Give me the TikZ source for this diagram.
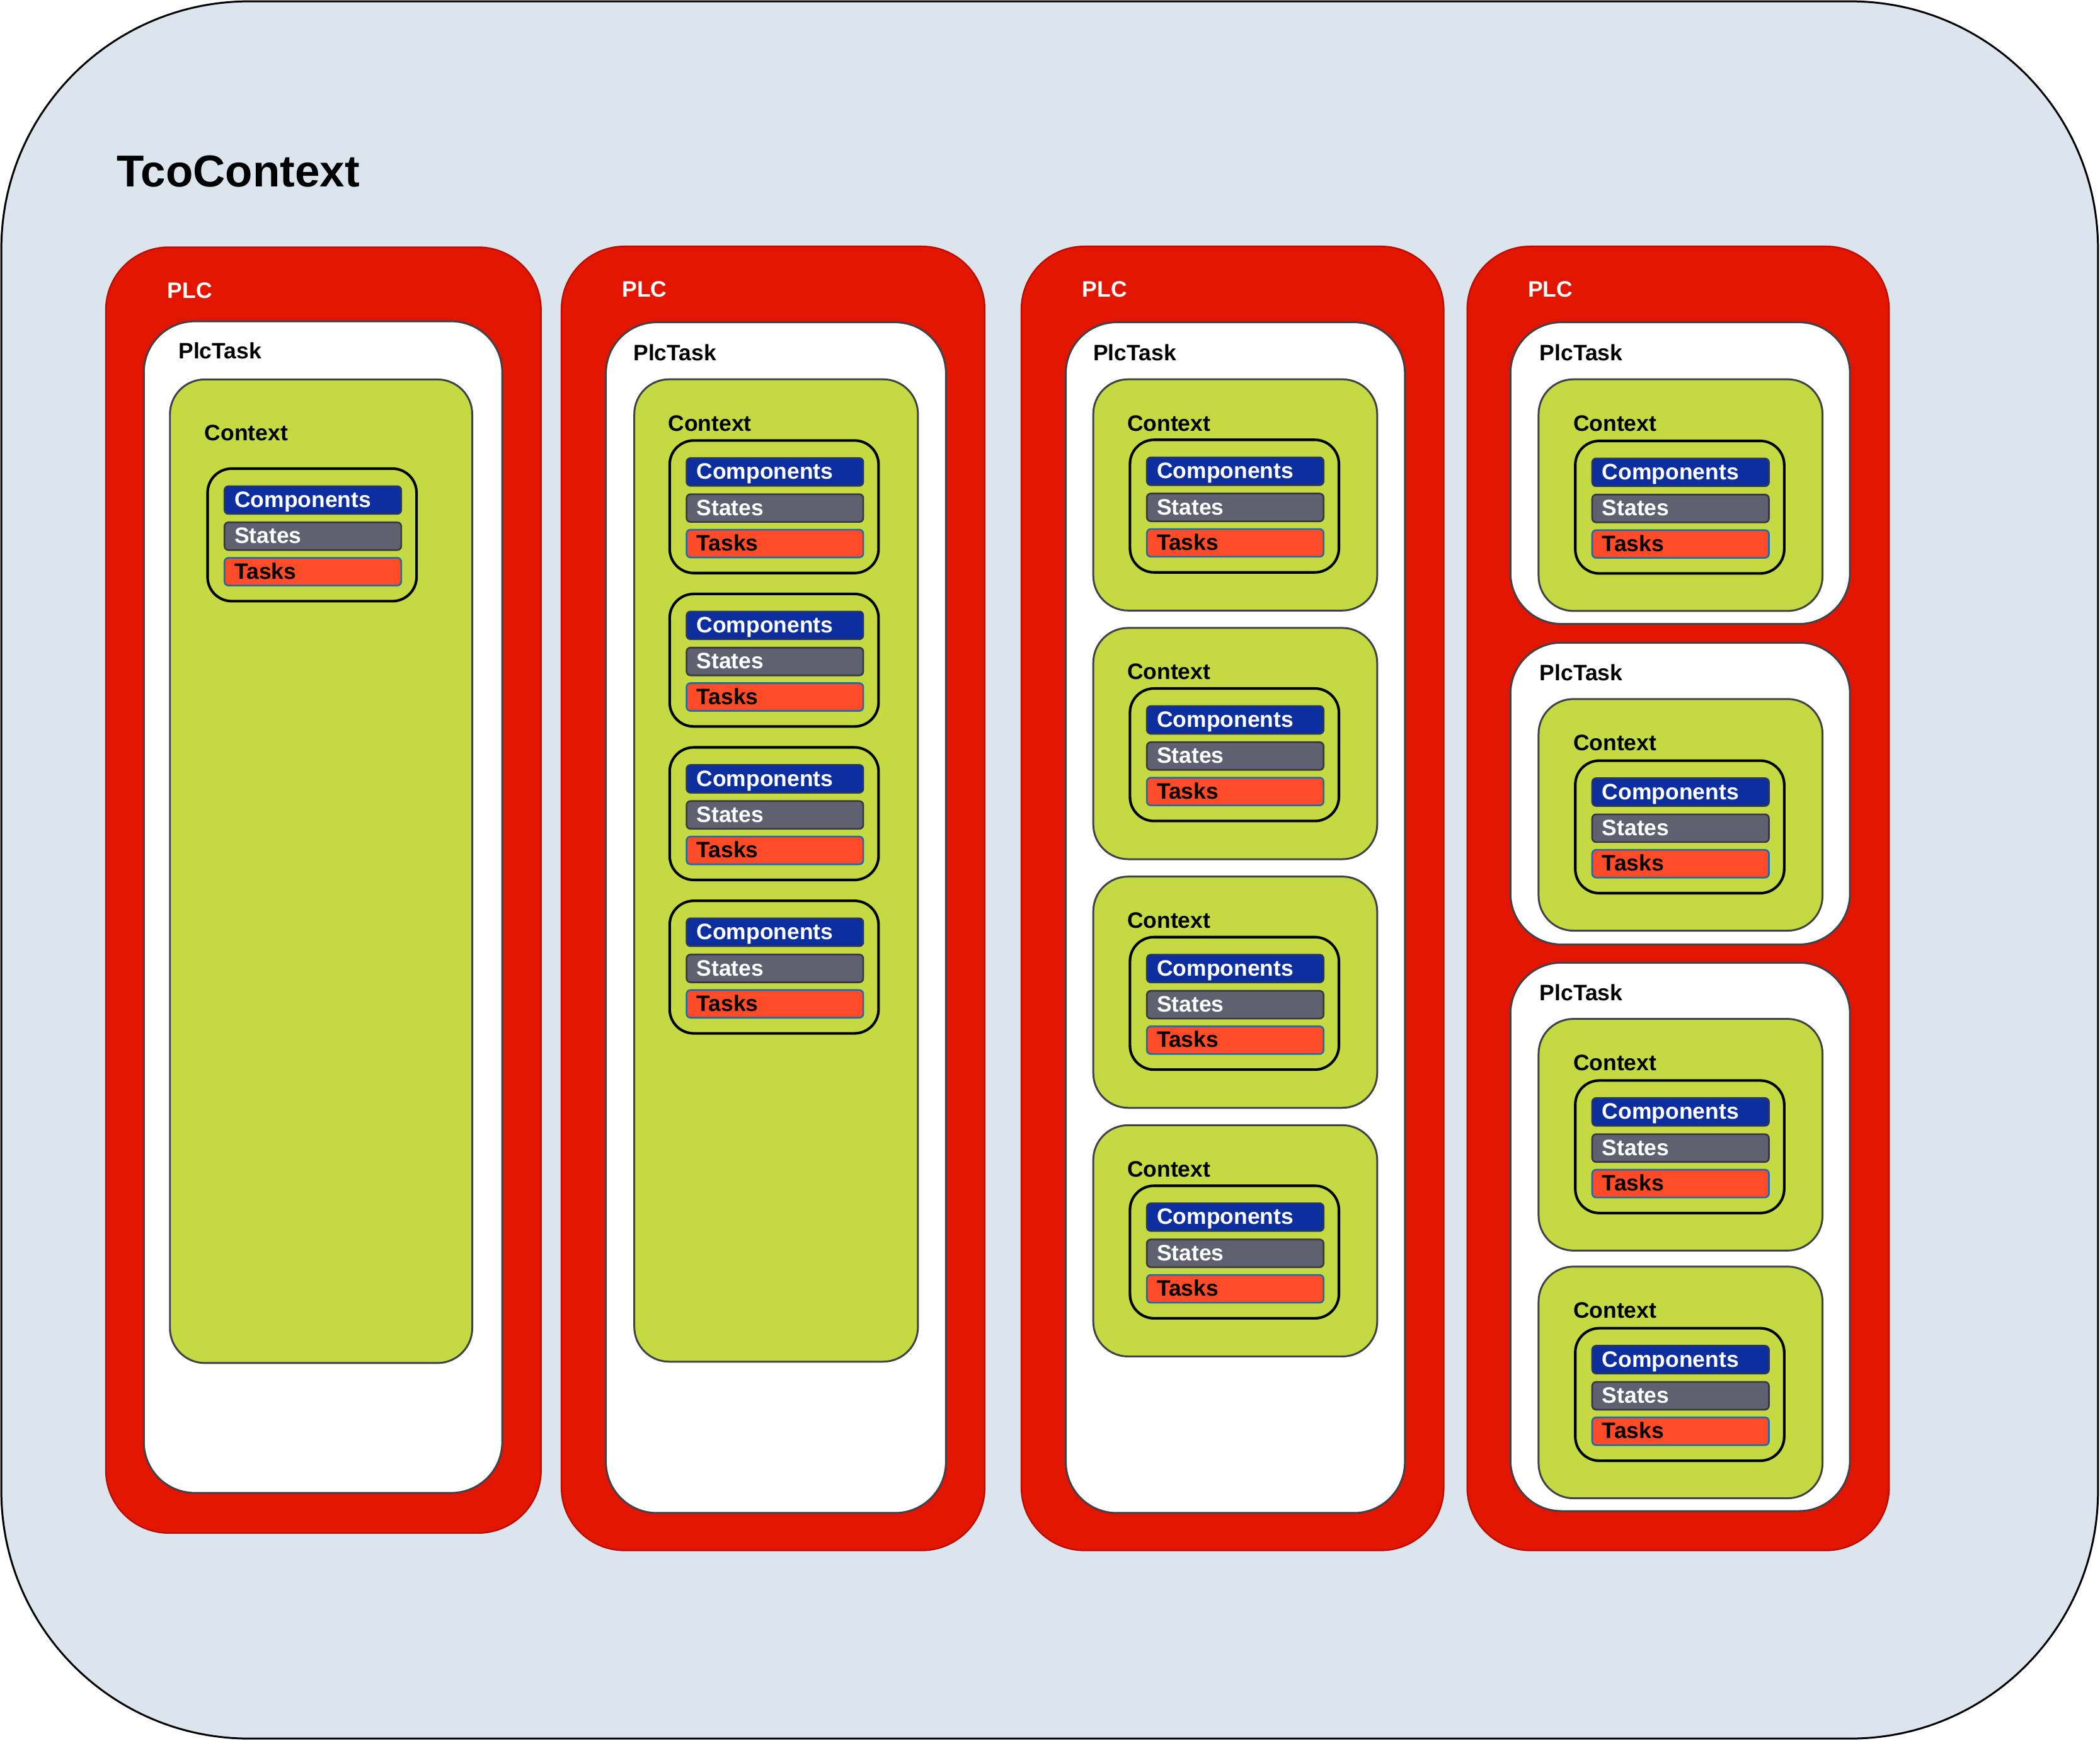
\documentclass[tikz,border=0pt]{standalone}
\usepackage{fontspec}
\setmainfont{Liberation Sans}
\usetikzlibrary{positioning}

\definecolor{bgblue}{RGB}{220,228,238}
\definecolor{plcred}{RGB}{226,22,0}
\definecolor{plcline}{RGB}{185,12,0}
\definecolor{ctxgreen}{RGB}{196,217,66}
\definecolor{boxgray}{RGB}{64,66,72}
\definecolor{compblue}{RGB}{12,46,158}
\definecolor{compline}{RGB}{40,55,95}
\definecolor{stategray}{RGB}{95,97,112}
\definecolor{stateline}{RGB}{55,57,65}
\definecolor{taskred}{RGB}{255,75,40}
\definecolor{taskline}{RGB}{20,110,175}

\tikzset{
  outer/.style={fill=bgblue, draw=black, line width=0.8pt, rounded corners=3.7cm},
  plc/.style={fill=plcred, draw=plcline, line width=0.6pt, rounded corners=0.94cm},
  plctask/.style={fill=white, draw=boxgray, line width=0.8pt, rounded corners=0.76cm},
  context/.style={fill=ctxgreen, draw=boxgray, line width=0.8pt, rounded corners=0.52cm},
  block/.style={draw=black, line width=1.1pt, rounded corners=0.36cm},
  bar/.style={anchor=north west, rounded corners=0.06cm, line width=0.7pt,
    inner xsep=0.15cm, inner ysep=0pt, text width=2.34cm, align=left,
    text height=9pt, text depth=2.8pt, font=\bfseries\fontsize{9.5}{11}\selectfont},
  lbl/.style={anchor=base west, inner sep=0pt, font=\bfseries\fontsize{9.5}{11}\selectfont},
  plclbl/.style={lbl, text=white},
}

% one context block: x, y (top left), name
\newcommand{\ctxblock}[3]{%
  \draw[block] (#1,#2) rectangle ++(156,99);
  \node[bar, fill=compblue, draw=compline, text=white] (#3comp) at (#1+12,#2+12.5) {Components};
  \node[bar, fill=stategray, draw=stateline, text=white] (#3state) at (#1+12,#2+39.5) {States};
  \node[bar, fill=taskred, draw=taskline] (#3task) at (#1+12,#2+66) {Tasks};
}

\begin{document}
\begin{tikzpicture}[x=0.02cm, y=-0.02cm]
  \useasboundingbox (0,0) rectangle (1568,1300);

  \draw[outer] (1,1) rectangle (1566.5,1298.5);
  \node[anchor=base west, inner sep=0pt, font=\bfseries\fontsize{19}{23}\selectfont] (title) at (87,139.3) {TcoContext};

  % first PLC: one task, one context
  \draw[plc] (79,184.6) rectangle (404,1145);
  \node[plclbl] (plc1) at (124.7,222.9) {PLC};
  \draw[plctask] (107.4,240) rectangle (375,1115);
  \node[lbl] (task1) at (133,268) {PlcTask};
  \draw[context] (126.9,283.4) rectangle (352.6,1018);
  \node[lbl] (ctx1) at (152.5,329) {Context};
  \ctxblock{155}{350}{b1}

  % second PLC: one context, four blocks
  \draw[plc] (419.2,184) rectangle (735.3,1158);
  \node[plclbl] (plc2) at (464.2,221.8) {PLC};
  \draw[plctask] (452.4,240.7) rectangle (706.3,1130);
  \node[lbl] (task2) at (472.6,269.2) {PlcTask};
  \draw[context] (473.6,283.3) rectangle (685.4,1017);
  \node[lbl] (ctx2) at (498.6,321.8) {Context};
  \foreach \i in {0,...,3} {
    \ctxblock{500}{329+114.6*\i}{b2\i}
  }

  % third PLC: four contexts
  \draw[plc] (762.6,184) rectangle (1078,1158);
  \node[plclbl] (plc3) at (807.8,221.8) {PLC};
  \draw[plctask] (795.8,240.7) rectangle (1049,1130);
  \node[lbl] (task3) at (816,269.2) {PlcTask};
  \foreach \i in {0,...,3} {
    \pgfmathsetmacro{\ty}{283.3+185.7*\i}
    \draw[context] (816.3,\ty) rectangle ++(212,172.7);
    \node[lbl] (ctx3\i) at (841.3,\ty+38.5) {Context};
    \ctxblock{843.7}{\ty+45.2}{b3\i}
  }

  % fourth PLC: three tasks
  \draw[plc] (1095.5,184) rectangle (1410.5,1158);
  \node[plclbl] (plc4) at (1140.5,221.8) {PLC};
  \foreach \t/\b/\n in {240.7/466/a, 480/705.4/b, 719/1128.6/c} {
    \draw[plctask] (1127.8,\t) rectangle (1381.3,\b);
    \node[lbl] (task4\n) at (1149.3,\t+28.5) {PlcTask};
  }
  \foreach \t/\n in {283.3/a, 522.1/b, 761/c, 946/d} {
    \draw[context] (1148.8,\t) rectangle ++(212,173);
    \node[lbl] (ctx4\n) at (1174.4,\t+38.5) {Context};
    \ctxblock{1176.2}{\t+46}{b4\n}
  }
\end{tikzpicture}
\end{document}
